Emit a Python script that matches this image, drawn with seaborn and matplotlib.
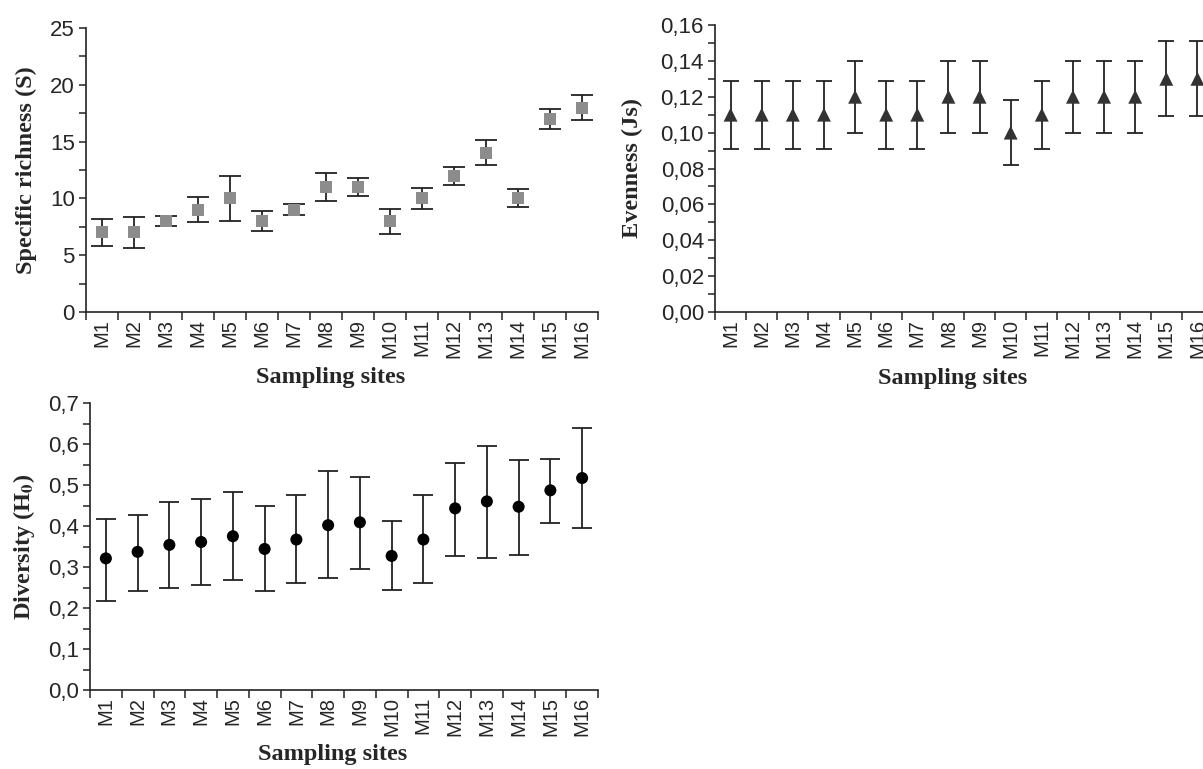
import numpy as np
import pandas as pd
import seaborn as sns
import matplotlib.pyplot as plt
from matplotlib.ticker import FixedLocator, MultipleLocator, FuncFormatter

sites = ["M%d" % i for i in range(1, 17)]

richness = [7, 7, 8, 9, 10, 8, 9, 11, 11, 8, 10, 12, 14, 10, 17, 18]
richness_err = [1.2, 1.4, 0.45, 1.1, 2.0, 0.9, 0.5, 1.2, 0.8, 1.1, 0.9, 0.8, 1.1, 0.8, 0.9, 1.1]

evenness = [0.11, 0.11, 0.11, 0.11, 0.12, 0.11, 0.11, 0.12, 0.12, 0.10, 0.11, 0.12, 0.12, 0.12, 0.13, 0.13]
evenness_err = [0.019, 0.019, 0.019, 0.019, 0.02, 0.019, 0.019, 0.02, 0.02, 0.018, 0.019, 0.02, 0.02, 0.02, 0.021, 0.021]

diversity = [0.321, 0.337, 0.354, 0.361, 0.375, 0.344, 0.367, 0.402, 0.409, 0.327, 0.367, 0.443, 0.460, 0.447, 0.487, 0.517]
diversity_lo = [0.218, 0.242, 0.248, 0.255, 0.268, 0.242, 0.262, 0.272, 0.295, 0.245, 0.262, 0.326, 0.323, 0.330, 0.407, 0.394]
diversity_hi = [0.418, 0.428, 0.458, 0.466, 0.483, 0.448, 0.476, 0.534, 0.520, 0.411, 0.476, 0.554, 0.594, 0.560, 0.564, 0.638]

df = pd.DataFrame({"site": sites, "S": richness, "J": evenness, "H": diversity})

sns.set_style("ticks")
plt.rcParams["font.family"] = ["Liberation Sans", "DejaVu Sans"]
plt.rcParams["mathtext.fontset"] = "stix"

W, H = 1203, 769
fig = plt.figure(figsize=(W / 100, H / 100), dpi=100)


def px_axes(left, top, right, bottom):
    return fig.add_axes([left / W, 1 - bottom / H, (right - left) / W, (bottom - top) / H])


def comma(fmt):
    return FuncFormatter(lambda v, p: (fmt % v).replace(".", ","))


def style(ax, ymax, major, minor, fmt, ylabel, yl_x):
    ax.set_xlim(-0.5, len(sites) - 0.5)
    ax.set_ylim(0, ymax)
    ax.yaxis.set_major_locator(MultipleLocator(major))
    ax.yaxis.set_minor_locator(MultipleLocator(minor))
    ax.yaxis.set_major_formatter(comma(fmt))
    ax.xaxis.set_major_locator(FixedLocator(np.arange(len(sites))))
    ax.set_xticklabels(sites, rotation=90)
    ax.xaxis.set_minor_locator(FixedLocator(np.arange(-0.5, len(sites), 1)))
    ax.tick_params(axis="x", which="major", length=0, labelsize=14.5, pad=5)
    ax.tick_params(axis="x", which="minor", length=6, width=1.1, direction="out", color="#222222")
    ax.tick_params(axis="y", which="both", length=5, width=1.1, direction="out", color="#222222",
                   labelsize=16, pad=3)
    for s in ["top", "right"]:
        ax.spines[s].set_visible(False)
    for s in ["left", "bottom"]:
        ax.spines[s].set_linewidth(1.2)
        ax.spines[s].set_color("#222222")
    lab = dict(fontfamily="Liberation Serif", fontweight="bold", fontsize=17.5)
    ax.set_xlabel("Sampling sites", **lab)
    ax.set_ylabel(ylabel, **lab)
    ax.xaxis.label.set_va("center")
    ax.yaxis.label.set_va("center")
    ax.xaxis.set_label_coords(0.478, -0.232)
    ax.yaxis.set_label_coords(yl_x, 0.5)


# Specific richness
ax1 = px_axes(86, 28, 598, 312)
ax1.errorbar(df["site"], df["S"], yerr=richness_err, fmt="none", ecolor="#222222",
             elinewidth=1.3, capsize=8, capthick=1.3, zorder=2)
sns.scatterplot(data=df, x="site", y="S", marker="s", s=75, color="#8c8c8c",
                edgecolor="none", ax=ax1, zorder=3)
style(ax1, 25, 5, 2.5, "%d", "Specific richness (S)", -0.117)

# Evenness
ax2 = px_axes(715, 25, 1213, 312)
ax2.errorbar(df["site"], df["J"], yerr=evenness_err, fmt="none", ecolor="#222222",
             elinewidth=1.3, capsize=6, capthick=1.3, zorder=2)
sns.scatterplot(data=df, x="site", y="J", marker="^", s=100, color="#333333",
                edgecolor="none", ax=ax2, zorder=3)
style(ax2, 0.16, 0.02, 0.01, "%.2f", "Evenness (Js)", -0.165)

# Diversity
ax3 = px_axes(90, 403, 598, 690)
yerr_h = [np.array(diversity) - np.array(diversity_lo), np.array(diversity_hi) - np.array(diversity)]
ax3.errorbar(df["site"], df["H"], yerr=yerr_h, fmt="none", ecolor="#222222",
             elinewidth=1.3, capsize=7, capthick=1.3, zorder=2)
sns.scatterplot(data=df, x="site", y="H", marker="o", s=75, color="black",
                edgecolor="none", ax=ax3, zorder=3)
style(ax3, 0.7, 0.1, 0.05, "%.1f", r"Diversity (H$_\mathbf{0}$)", -0.13)
ax3.xaxis.set_label_coords(0.478, -0.226)

fig.savefig("out.png", dpi=100)
